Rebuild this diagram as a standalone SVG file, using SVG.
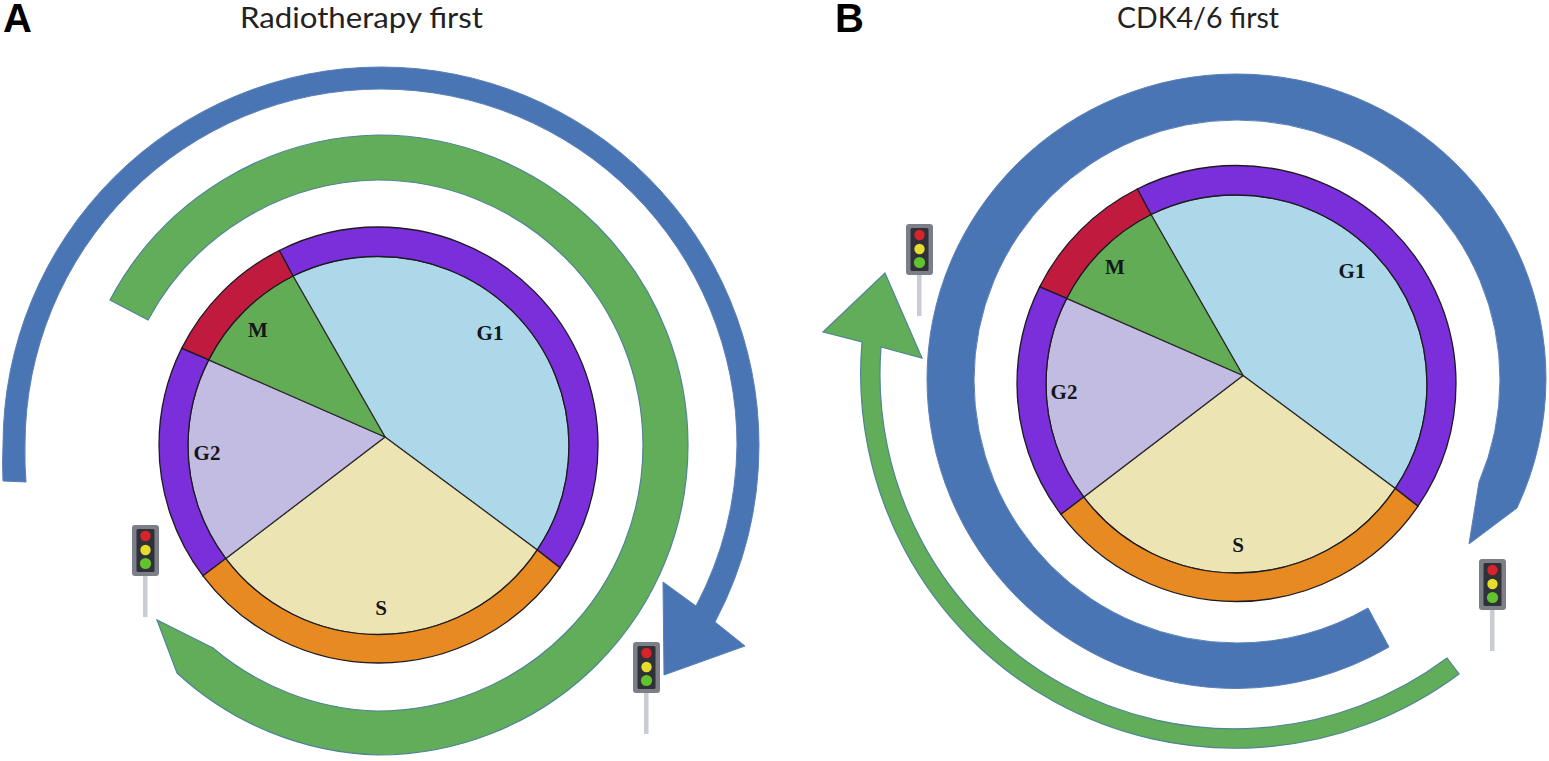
<svg xmlns="http://www.w3.org/2000/svg" width="1549" height="761" viewBox="0 0 1549 761">
<style>
.title{font-family:"Lato","Open Sans","Liberation Sans",sans-serif;font-size:29px;fill:#222}
.panel{font-family:"Liberation Sans",Arial,sans-serif;font-size:40px;font-weight:bold;fill:#000}
.phase{font-family:"Liberation Serif","Times New Roman",serif;font-size:21px;font-weight:bold;fill:#14161a;text-anchor:middle}
.blue{fill:#4A75B4;stroke:#5A80B8;stroke-width:1}
.green{fill:#62AD59;stroke:#4F8496;stroke-width:1.2}
.seg{stroke:#1d1a22;stroke-width:1.3}
.spoke{stroke:#2a2a2a;stroke-width:1.2}
</style>
<defs>
<g id="pie">
<path class="spoke" fill="#ADD8E9" d="M385,437 L293,276 A190.5,189 0 0 1 378.5,256.5 A190.5,189 0 0 1 569,445.5 A190.5,189 0 0 1 537.3,549.9 Z"/>
<path class="spoke" fill="#EDE4B4" d="M385,437 L537.3,549.9 A190.5,189 0 0 1 378.5,634.5 A190.5,189 0 0 1 225.8,558.6 Z"/>
<path class="spoke" fill="#C3BCE2" d="M385,437 L225.8,558.6 A190.5,189 0 0 1 188,445.5 A190.5,189 0 0 1 208.7,359.9 Z"/>
<path class="spoke" fill="#62AC55" d="M385,437 L208.7,359.9 A190.5,189 0 0 1 293,276 Z"/>
<path class="seg" fill="#7A2FDB" d="M279.3,250.5 A219.5,218 0 0 1 378.5,227 A219.5,218 0 0 1 598,445 A219.5,218 0 0 1 560,567.7 L537.3,549.9 A190.5,189 0 0 0 569,445.5 A190.5,189 0 0 0 378.5,256.5 A190.5,189 0 0 0 293,276 Z"/>
<path class="seg" fill="#C01B3F" d="M181.7,348.4 A219.5,218 0 0 1 279.3,250.5 L293,276 A190.5,189 0 0 0 208.7,359.9 Z"/>
<path class="seg" fill="#7A2FDB" d="M203,575.8 A219.5,218 0 0 1 159,445 A219.5,218 0 0 1 181.7,348.4 L208.7,359.9 A190.5,189 0 0 0 188,445.5 A190.5,189 0 0 0 225.8,558.6 Z"/>
<path class="seg" fill="#E78A21" d="M560,567.7 A219.5,218 0 0 1 378.5,663 A219.5,218 0 0 1 203,575.8 L225.8,558.6 A190.5,189 0 0 0 378.5,634.5 A190.5,189 0 0 0 537.3,549.9 Z"/>
</g>
<g id="light">
<rect x="11" y="51" width="4.5" height="41" fill="#C9CCD4"/>
<rect x="0" y="0" width="27" height="51" rx="3" fill="#7D7F88"/>
<rect x="4.5" y="4" width="18" height="43" rx="1.5" fill="#2F3038"/>
<circle cx="13.5" cy="11" r="5.2" fill="#D8232A"/>
<circle cx="13.5" cy="25" r="5.2" fill="#E6DC2E"/>
<circle cx="13.5" cy="38.5" r="5.6" fill="#62C32E"/>
</g>
</defs>
<rect width="1549" height="761" fill="#fff"/>

<g id="connectors">
<path id="a-blue" class="blue" d="M3,481 A378,378 0 0 1 3,445 A378,378 0 0 1 381,67 A378,378 0 0 1 759,445 A378,378 0 0 1 715,622 L745,646 L664,675 L663,582 L696,606 A356,356 0 0 0 737,445 A356,356 0 0 0 381,89 A356,356 0 0 0 25,445 A356,356 0 0 0 26,482 Z"/>
<path id="a-green" class="green" d="M110,300 A310,310 0 0 1 378,135 A310,310 0 0 1 688,445 A310,310 0 0 1 378,755 A310,310 0 0 1 177,673 L157,620 L213,648 A265.5,265.5 0 0 0 377,711 A265.5,265.5 0 0 0 643,445 A265.5,265.5 0 0 0 377,180 A265.5,265.5 0 0 0 148,320 Z"/>
<path id="b-blue" class="blue" d="M1389,647 A309.5,309.5 0 0 1 1236.5,688.5 A309.5,309.5 0 0 1 927,379 A309.5,305 0 0 1 1236.5,74 A309.5,305 0 0 1 1546,379 A309.5,309.5 0 0 1 1517,508 L1469,544 L1479,482 A263,263 0 0 0 1500,380 A263,260 0 0 0 1237,120 A263,260 0 0 0 974,380 A263,263 0 0 0 1237,643 A263,263 0 0 0 1368,608 Z"/>
<path id="b-green" class="green" d="M1459,674 A374.5,374.5 0 0 1 862,342 L823,332 L885,273 L922,358 L881,347 A354.5,354.5 0 0 0 1447,658 Z"/>
</g>

<g id="panel-a">
<text class="panel" x="3" y="32">A</text>
<text class="title" x="240" y="28" textLength="243" lengthAdjust="spacingAndGlyphs">Radiotherapy first</text>
</g>
<g id="panel-b">
<text class="panel" x="835" y="32">B</text>
<text class="title" x="1117" y="28" textLength="162" lengthAdjust="spacingAndGlyphs">CDK4/6 first</text>
</g>

<g id="cycle-a">
<use href="#pie"/>
<text class="phase" x="490" y="340">G1</text>
<text class="phase" x="381" y="615">S</text>
<text class="phase" x="207" y="460">G2</text>
<text class="phase" x="258" y="337">M</text>
</g>
<g id="cycle-b">
<use href="#pie" x="858" y="-61.5"/>
<text class="phase" x="1352" y="278">G1</text>
<text class="phase" x="1238" y="552">S</text>
<text class="phase" x="1064" y="399">G2</text>
<text class="phase" x="1115" y="274">M</text>
</g>

<g id="light-a1"><use href="#light" x="132" y="525"/></g>
<g id="light-a2"><use href="#light" x="633" y="642"/></g>
<g id="light-b1"><use href="#light" x="906" y="224"/></g>
<g id="light-b2"><use href="#light" x="1479" y="559"/></g>
</svg>
